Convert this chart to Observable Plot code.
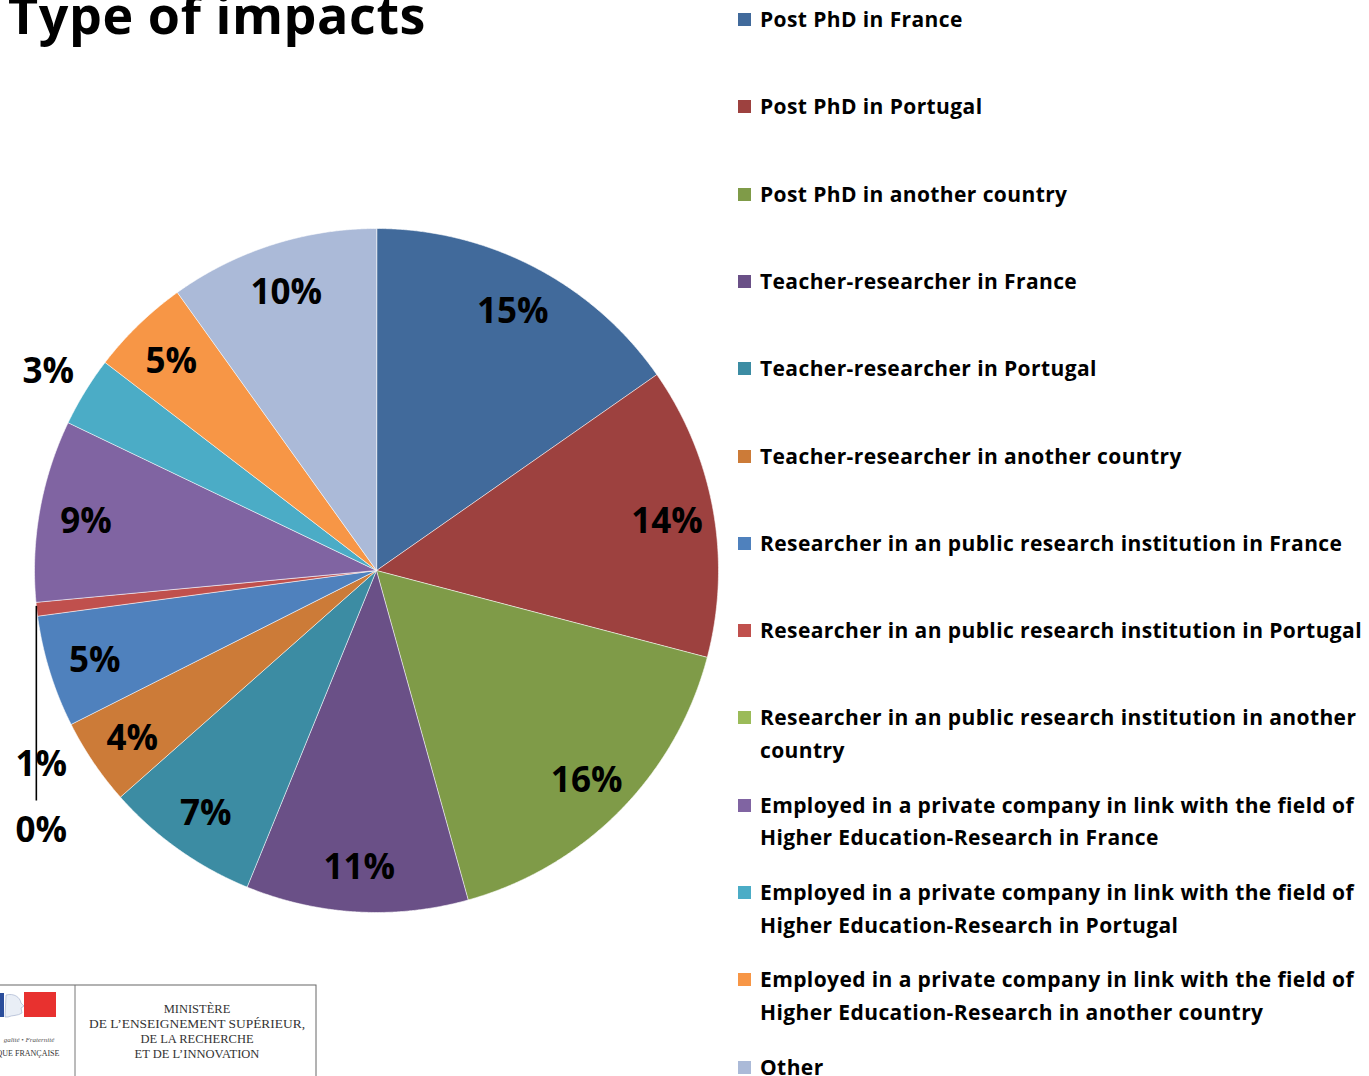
<!DOCTYPE html>
<html>
<head>
<meta charset="utf-8">
<script src="https://cdn.jsdelivr.net/npm/d3@7"></script>
<script src="https://cdn.jsdelivr.net/npm/@observablehq/plot@0.6"></script>
<style>
  html, body { margin: 0; padding: 0; background: #fff; }
  #page { position: relative; width: 1369px; height: 1076px; overflow: hidden; background: #fff; font-family: "Open Sans", Lato, sans-serif; }
  #title { position: absolute; left: 8px; top: -12px; font-size: 52px; line-height: 1; font-weight: 700; color: #000; white-space: nowrap; letter-spacing: 0.6px; }
  #chart { position: absolute; left: 0; top: 0; }
  .lg { position: absolute; left: 738px; width: 631px; }
  .lg .sw { position: absolute; left: 0; width: 13px; height: 13px; }
  .lg .tx { position: absolute; left: 22px; font-size: 21px; line-height: 32.5px; font-weight: 700; color: #000; white-space: nowrap; letter-spacing: 0.4px; }
  #logo { position: absolute; left: 0; top: 0; }
</style>
</head>
<body>
<div id="page">
  <div id="chart"></div>
  <div id="title">Type of impacts</div>
  <div id="legend"></div>
  <svg id="logo" width="330" height="1076" viewBox="0 0 330 1076">
    <rect x="-2" y="985" width="318" height="93" fill="#fff" stroke="#666" stroke-width="1"/>
    <line x1="75" y1="985" x2="75" y2="1076" stroke="#777" stroke-width="1"/>
    <rect x="-2" y="993" width="6" height="24" fill="#2a4d9b"/>
    <rect x="24" y="992" width="32" height="25" fill="#e8312f"/>
    <path d="M6,995 C14,993 20,997 21,1003 L24,1006 L21,1008 L22,1013 C18,1016 12,1015 8,1017 L5,1017 Z" fill="#e9eef6" stroke="#9aa8c8" stroke-width="0.6"/>
    <text x="29" y="1042" font-family="Liberation Serif, serif" font-style="italic" font-size="7" fill="#555" text-anchor="middle">galité • Fraternité</text>
    <text x="28" y="1056" font-family="Liberation Serif, serif" font-size="8" fill="#333" text-anchor="middle">QUE FRANÇAISE</text>
    <g font-family="Liberation Serif, 'DejaVu Serif', serif" font-size="12.5" fill="#333" text-anchor="middle">
      <text x="197" y="1013">MINISTÈRE</text>
      <text x="197" y="1028" textLength="216" lengthAdjust="spacingAndGlyphs">DE L’ENSEIGNEMENT SUPÉRIEUR,</text>
      <text x="197" y="1043">DE LA RECHERCHE</text>
      <text x="197" y="1058">ET DE L’INNOVATION</text>
    </g>
  </svg>
</div>
<script>
// ---------------- data ----------------
const categories = [
  "Post PhD in France",
  "Post PhD in Portugal",
  "Post PhD in another country",
  "Teacher-researcher in France",
  "Teacher-researcher in Portugal",
  "Teacher-researcher in another country",
  "Researcher in an public research institution in France",
  "Researcher in an public research institution in Portugal",
  "Researcher in an public research institution in another country",
  "Employed in a private company in link with the field of Higher Education-Research in France",
  "Employed in a private company in link with the field of Higher Education-Research in Portugal",
  "Employed in a private company in link with the field of Higher Education-Research in another country",
  "Other"
];
const shares = [15.3, 13.8, 16.6, 10.5, 7.3, 4.1, 5.3, 0.65, 0, 8.6, 3.3, 4.7, 9.9];
const shareLabels = ["15%", "14%", "16%", "11%", "7%", "4%", "5%", "1%", "0%", "9%", "3%", "5%", "10%"];
const colors = [
  "#416a9b", "#9d413f", "#7f9b48", "#6a5087", "#3c8ca3", "#cc7b38",
  "#4f81bd", "#c0504d", "#9bbb59", "#8064a2", "#4bacc6", "#f79646", "#abbad8"
];

// ---------------- geometry (data units = pixels, y up) ----------------
const R = 342;
const arcs = d3.pie().sort(null).value(d => d)(shares);
const pt = (a, r) => ({x: r * Math.sin(a), y: r * Math.cos(a)});

const slicePts = [];
arcs.forEach((a, i) => {
  if (shares[i] <= 0) return;
  slicePts.push({name: categories[i], ...pt(0, 0)});
  const n = Math.max(2, Math.ceil((a.endAngle - a.startAngle) / (Math.PI / 720)));
  for (let k = 0; k <= n; k++) {
    const ang = a.startAngle + (a.endAngle - a.startAngle) * k / n;
    slicePts.push({name: categories[i], ...pt(ang, R)});
  }
});

const labelPts = [];
const tiny = [];
arcs.forEach((a, i) => {
  const mid = (a.startAngle + a.endAngle) / 2;
  if (shares[i] >= 3.5) labelPts.push({label: shareLabels[i], ...pt(mid, 295)});
  else if (shares[i] >= 2) labelPts.push({label: shareLabels[i], ...pt(mid, 385)});
  else tiny.push({i, mid});
});
const leader = [];
if (tiny.length) {
  const anchor = pt(d3.mean(tiny, t => t.mid), R);
  const bottom = -230;
  leader.push({x1: anchor.x, y1: anchor.y, x2: anchor.x, y2: bottom});
  tiny.forEach((t, k) => {
    labelPts.push({label: shareLabels[t.i], x: anchor.x + 5, y: bottom + 39 - 66 * k});
  });
}

// ---------------- chart ----------------
const chart = Plot.plot({
  width: 730,
  height: 1076,
  margin: 0,
  style: {background: "transparent"},
  x: {domain: [-376, 354], axis: null},
  y: {domain: [-506, 570], axis: null},
  color: {domain: categories, range: colors},
  marks: [
    Plot.line(slicePts, {x: "x", y: "y", z: "name", fill: "name", stroke: "#ffffff", strokeOpacity: 0.75, strokeWidth: 0.8, curve: "linear-closed"}),
    Plot.link(leader, {x1: "x1", y1: "y1", x2: "x2", y2: "y2", stroke: "#000", strokeWidth: 1.6}),
    Plot.text(labelPts, {x: "x", y: "y", dy: 3, text: "label", fontSize: 35, fontWeight: 700, fontFamily: "'Open Sans', Lato, sans-serif", fill: "#000"})
  ]
});
document.getElementById("chart").appendChild(chart);

// ---------------- legend ----------------
function wrap(s) {
  if (s.length <= 57) return [s];
  const cut = s.lastIndexOf(" ", 56);
  return [s.slice(0, cut), s.slice(cut + 1)];
}
const legend = document.getElementById("legend");
categories.forEach((c, i) => {
  const cy = 19.5 + 87.3 * i;
  const row = document.createElement("div");
  row.className = "lg";
  row.style.top = "0px";
  const sw = document.createElement("div");
  sw.className = "sw";
  sw.style.top = (cy - 6.5) + "px";
  sw.style.background = colors[i];
  const tx = document.createElement("div");
  tx.className = "tx";
  tx.style.top = (cy - 16.5) + "px";
  tx.innerHTML = wrap(c).join("<br>");
  row.appendChild(sw);
  row.appendChild(tx);
  legend.appendChild(row);
});
</script>
</body>
</html>
